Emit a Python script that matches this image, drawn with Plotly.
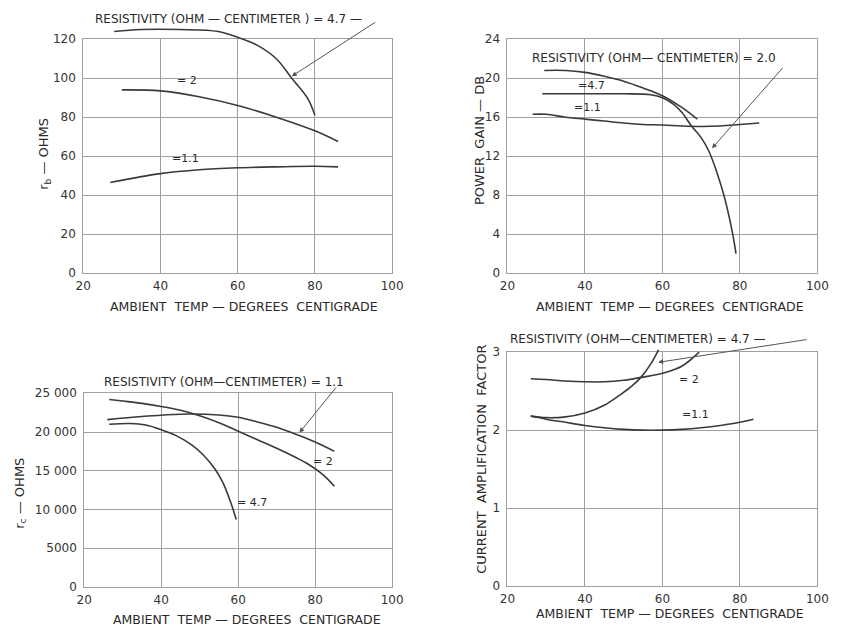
import plotly.graph_objects as go

W, H = 843, 634

# ---------------- data ----------------
# Top-left: r_b (ohms) vs ambient temp
rb_47_t = [28, 35, 45, 55, 60, 65, 70, 74, 78, 80]
rb_47_v = [124, 125, 125, 124, 121, 117, 110, 100, 90, 81]
rb_2_t = [30, 40, 50, 60, 70, 80, 86]
rb_2_v = [94, 93.5, 90.5, 86, 80, 73, 67.5]
rb_11_t = [27, 40, 50, 60, 70, 80, 86]
rb_11_v = [46.5, 51, 53, 54, 54.5, 54.8, 54.5]

# Top-right: power gain (dB)
pg_a_t = [29.5, 35, 40, 45, 50, 55, 60, 65, 69]
pg_a_v = [20.8, 20.8, 20.6, 20.2, 19.7, 19.0, 18.2, 17.0, 15.8]
pg_b_t = [29, 40, 50, 57, 60, 63, 65, 67.5, 70, 72, 74, 76, 78, 79]
pg_b_v = [18.4, 18.4, 18.4, 18.3, 18.0, 17.3, 16.5, 15.1, 13.9, 12.5, 10.4, 7.8, 4.3, 2.0]
pg_11_t = [26.5, 30, 35, 40, 45, 50, 55, 60, 65, 70, 75, 80, 85]
pg_11_v = [16.3, 16.3, 16.0, 15.8, 15.6, 15.4, 15.25, 15.2, 15.1, 15.05, 15.1, 15.25, 15.4]

# Bottom-left: r_c (ohms)
rc_11_t = [26, 35, 45, 55, 60, 65, 70, 75, 80, 85]
rc_11_v = [21600, 22000, 22300, 22200, 21900, 21300, 20600, 19700, 18700, 17500]
rc_2_t = [26.5, 30, 35, 40, 45, 50, 55, 60, 65, 70, 75, 78, 82, 85]
rc_2_v = [24200, 24000, 23700, 23300, 22800, 22100, 21200, 20100, 19000, 17900, 16700, 15900, 14500, 13000]
rc_47_t = [26.5, 32, 36, 40, 44, 48, 51, 54, 56, 58, 59.5]
rc_47_v = [21000, 21100, 20900, 20300, 19500, 18300, 17000, 15200, 13500, 11000, 8700]

# Bottom-right: current amplification factor
ca_2_t = [26, 30, 35, 40, 45, 50, 55, 60, 65, 69.5]
ca_2_v = [2.66, 2.65, 2.63, 2.62, 2.62, 2.64, 2.68, 2.73, 2.82, 3.0]
ca_47_t = [26, 30, 35, 40, 45, 49, 52, 54.5, 57, 59]
ca_47_v = [2.18, 2.16, 2.17, 2.22, 2.32, 2.45, 2.56, 2.68, 2.85, 3.03]
ca_11_t = [26, 30, 35, 40, 45, 50, 55, 60, 65, 70, 75, 80, 83.5]
ca_11_v = [2.18, 2.14, 2.10, 2.06, 2.03, 2.01, 2.0, 2.0, 2.01, 2.03, 2.06, 2.1, 2.14]

x_ticks = [20, 40, 60, 80, 100]
x_ticktext = ["20", "40", "60", "80", "100"]
rb_ticks = [0, 20, 40, 60, 80, 100, 120]
pg_ticks = [0, 4, 8, 12, 16, 20, 24]
rc_ticks = [0, 5000, 10000, 15000, 20000, 25000]
rc_ticktext = ["0", "5000", "10 000", "15 000", "20 000", "25 000"]
ca_ticks = [0, 1, 2, 3]

FONT = "DejaVu Sans"
LINE = "#3a3a3a"
GRID = "#a0a0a0"


def px(x):
    return x / W


def py(y):
    return 1 - y / H


fig = go.Figure()

# (x, y, xaxis, yaxis) -- curves that rise above the frame go on a transparent overlay
series = [
    (rb_47_t, rb_47_v, "x5", "y5"), (rb_2_t, rb_2_v, "x", "y"), (rb_11_t, rb_11_v, "x", "y"),
    (pg_a_t, pg_a_v, "x2", "y2"), (pg_b_t, pg_b_v, "x2", "y2"), (pg_11_t, pg_11_v, "x2", "y2"),
    (rc_11_t, rc_11_v, "x3", "y3"), (rc_2_t, rc_2_v, "x3", "y3"), (rc_47_t, rc_47_v, "x3", "y3"),
    (ca_2_t, ca_2_v, "x6", "y6"), (ca_47_t, ca_47_v, "x6", "y6"), (ca_11_t, ca_11_v, "x4", "y4"),
]
for xs, ys, xa, ya in series:
    fig.add_trace(go.Scatter(x=xs, y=ys, xaxis=xa, yaxis=ya, mode="lines",
                             line=dict(color=LINE, width=1.6, shape="spline", smoothing=1.0),
                             showlegend=False, hoverinfo="skip"))

domains = {
    "": ([77, 393], [33, 272]),
    "2": ([511, 828], [33, 272]),
    "3": ([78, 393], [395, 593]),
    "4": ([511, 828], [353, 592]),
}
yinfo = {
    "": ([0, 120], rb_ticks, [str(v) for v in rb_ticks]),
    "2": ([0, 24], pg_ticks, [str(v) for v in pg_ticks]),
    "3": ([0, 25000], rc_ticks, rc_ticktext),
    "4": ([0, 3], ca_ticks, [str(v) for v in ca_ticks]),
}
layout = {}
for k, (dx, dy) in domains.items():
    yr, yt, ytt = yinfo[k]
    layout["xaxis" + k] = dict(
        domain=[px(dx[0]), px(dx[1])], range=[20, 100], tickvals=x_ticks, ticktext=x_ticktext,
        showgrid=True, gridcolor=GRID, gridwidth=1, showline=True, linecolor=GRID, mirror=True,
        zeroline=False, ticks="", tickfont=dict(family=FONT, size=12, color="#333"),
        ticklabelstandoff=2, anchor="y" + k, fixedrange=True)
    layout["yaxis" + k] = dict(
        domain=[py(dy[1]), py(dy[0])], range=yr, tickvals=yt, ticktext=ytt,
        showgrid=True, gridcolor=GRID, gridwidth=1, showline=True, linecolor=GRID, mirror=True,
        zeroline=False, ticks="", tickfont=dict(family=FONT, size=12, color="#333"),
        ticklabelstandoff=4, anchor="x" + k, fixedrange=True)

# transparent overlays with the same scale but extra headroom above the frame
for k, base, extra in [("5", "", 127), ("6", "4", 3.1)]:
    dx, dy = domains[base]
    yr = yinfo[base][0]
    ppu = (dy[1] - dy[0]) / (yr[1] - yr[0])
    top = dy[1] - (extra - yr[0]) * ppu
    layout["xaxis" + k] = dict(domain=[px(dx[0]), px(dx[1])], range=[20, 100], visible=False,
                               showgrid=False, zeroline=False, anchor="y" + k, fixedrange=True)
    layout["yaxis" + k] = dict(domain=[py(dy[1]), py(top)], range=[yr[0], extra], visible=False,
                               showgrid=False, zeroline=False, anchor="x" + k, fixedrange=True)

ann = []


def text(x, y, s, size=11, angle=0):
    ann.append(dict(x=px(x), y=py(y), xref="paper", yref="paper", text=s, showarrow=False,
                    font=dict(family=FONT, size=size, color="#2a2a2a"), textangle=angle,
                    xanchor="center", yanchor="middle"))


def arrow(xv, yv, xa, ya, ax, ay):
    ann.append(dict(x=xv, y=yv, xref=xa, yref=ya, ax=ax, ay=ay, text="", showarrow=True,
                    arrowhead=2, arrowsize=1, arrowwidth=1, arrowcolor="#555", standoff=0))


# axis titles
for cx, cy in [(241, 306), (677, 306), (245, 626), (677, 620)]:
    text(cx, cy, "AMBIENT  TEMP — DEGREES  CENTIGRADE", size=12.5)
text(38, 150, "r<sub>b</sub> — OHMS", size=13, angle=-90)
text(483, 137, "POWER  GAIN — DB", size=13, angle=-90)
text(12, 497, "r<sub>c</sub> — OHMS", size=13, angle=-90)
text(485, 463, "CURRENT  AMPLIFICATION  FACTOR", size=13, angle=-90)

# curve labels
text(226, 12, "RESISTIVITY (OHM — CENTIMETER ) = 4.7 —", size=12)
text(183, 75, "= 2", size=11)
text(182, 155, "=1.1", size=11)
arrow(74, 101, "x", "y", 85, -55)

text(661, 52, "RESISTIVITY (OHM— CENTIMETER) = 2.0", size=12)
text(597, 80, "=4.7", size=11)
text(593, 103, "=1.1", size=11)
arrow(72.8, 12.8, "x2", "y2", 72, -82)

text(221, 383, "RESISTIVITY (OHM—CENTIMETER) = 1.1", size=12)
text(322, 465, "= 2", size=11)
text(250, 507, "= 4.7", size=11)
arrow(75.9, 19900, "x3", "y3", 38, -47)

text(645, 340, "RESISTIVITY (OHM—CENTIMETER) = 4.7 —", size=12)
text(697, 381, "= 2", size=11)
text(703, 417, "=1.1", size=11)
arrow(58.9, 2.87, "x4", "y4", 150, -23)

fig.update_layout(width=W, height=H, margin=dict(l=0, r=0, t=0, b=0),
                  paper_bgcolor="white", plot_bgcolor="rgba(0,0,0,0)", annotations=ann,
                  font=dict(family=FONT), **layout)
fig.write_html("out.html")
